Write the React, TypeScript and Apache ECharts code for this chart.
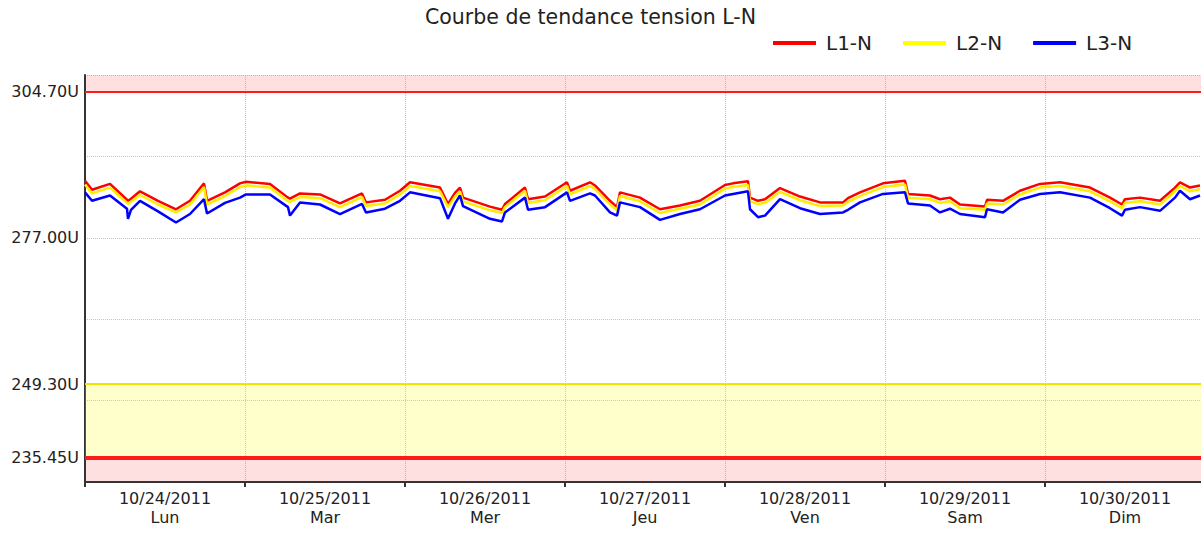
import React, { useEffect, useRef } from "react";
import * as echarts from "echarts";

// Hours since 10/24/2011 00:00
const hours = [0, 1.05, 3.75, 6.3, 6.45, 6.9, 8.25, 10.95, 13.65, 15.75, 17.85, 18.3, 21, 23.25, 24.15, 27.75, 30.45, 30.75, 32.25, 35.25, 38.25, 41.55, 42.15, 45, 47.25, 48.75, 53.25, 54.45, 55.5, 56.25, 56.7, 60.75, 62.55, 63, 66, 66.45, 69, 72.3, 72.75, 75.75, 76.5, 78.75, 79.8, 80.25, 83.25, 86.25, 89.25, 92.25, 96, 97.2, 99.45, 99.75, 100.95, 102, 104.25, 107.25, 110.25, 113.7, 114.45, 116.25, 119.7, 123, 123.45, 126.75, 128.25, 129.75, 131.25, 135, 135.3, 137.7, 140.25, 143.25, 146.25, 150.75, 153.75, 155.55, 156, 158.25, 161.25, 163.5, 164.25, 165.75, 167.25];

const l1 = [
  287.8, 286.1, 287.2, 284.2, 284.0, 284.4, 285.8, 284.0, 282.4, 284.0,
  287.3, 284.0, 285.6, 287.3, 287.6, 287.2, 284.6, 284.4, 285.4, 285.2,
  283.5, 285.4, 283.7, 284.2, 285.9, 287.5, 286.5, 283.4, 285.5, 286.5,
  284.6, 282.9, 282.3, 283.4, 286.5, 284.3, 284.8, 287.5, 285.9, 287.5,
  286.9, 284.0, 282.8, 285.6, 284.6, 282.4, 283.1, 284.0, 287.0, 287.3,
  287.7, 284.6, 284.0, 284.3, 286.4, 284.8, 283.7, 283.7, 284.5, 285.6,
  287.3, 287.8, 285.3, 285.0, 284.3, 284.6, 283.3, 282.9, 284.2, 284.0,
  285.9, 287.2, 287.5, 286.5, 284.6, 283.3, 284.3, 284.6, 284.0, 286.5,
  287.5, 286.5, 286.9,
];

const l2 = [
  287.1, 285.4, 286.5, 283.6, 283.4, 283.8, 285.1, 283.3, 281.8, 283.3,
  286.6, 283.3, 284.9, 286.6, 286.9, 286.5, 283.9, 283.8, 284.7, 284.5,
  282.8, 284.7, 283.0, 283.5, 285.2, 286.8, 285.8, 282.8, 284.8, 285.8,
  283.9, 282.2, 281.7, 282.8, 285.9, 283.6, 284.1, 286.8, 285.2, 286.8,
  286.2, 283.3, 282.2, 284.9, 283.9, 281.7, 282.5, 283.3, 286.3, 286.6,
  287.0, 283.9, 283.4, 283.6, 285.7, 284.1, 283.0, 283.1, 283.8, 284.9,
  286.6, 287.1, 284.6, 284.3, 283.6, 283.9, 282.6, 282.3, 283.5, 283.3,
  285.2, 286.5, 286.8, 285.8, 283.9, 282.6, 283.6, 283.9, 283.3, 285.8,
  286.8, 285.8, 286.2,
];

const l3 = [
  285.6, 284.0, 285.0, 282.5, 280.6, 282.3, 284.0, 282.0, 279.9, 281.5,
  284.3, 281.6, 283.6, 284.6, 285.2, 285.2, 282.8, 281.2, 283.7, 283.3,
  281.5, 283.4, 281.8, 282.5, 284.0, 285.6, 284.5, 280.6, 283.5, 285.0,
  283.0, 280.6, 280.1, 281.8, 284.6, 282.3, 282.8, 285.6, 284.0, 285.4,
  285.0, 281.8, 281.2, 283.7, 282.8, 280.4, 281.5, 282.4, 285.0, 285.3,
  285.8, 282.4, 280.9, 281.2, 284.3, 282.6, 281.5, 281.8, 282.3, 283.7,
  285.3, 285.6, 283.5, 283.1, 281.8, 282.5, 281.5, 280.9, 282.4, 281.8,
  284.2, 285.3, 285.6, 284.6, 282.6, 281.2, 282.3, 282.8, 282.1, 284.6,
  285.9, 284.3, 285.0,
];

const dayDates = ["10/24/2011", "10/25/2011", "10/26/2011", "10/27/2011", "10/28/2011", "10/29/2011", "10/30/2011"];
const dayNames = ["Lun", "Mar", "Mer", "Jeu", "Ven", "Sam", "Dim"];
const seriesNames = ["L1-N", "L2-N", "L3-N"];

const upperLimit = 304.7;
const nominal = 277.0;
const warnLimit = 249.3;
const lowerLimit = 235.45;
const yLabelValues = [lowerLimit, warnLimit, nominal, upperLimit];
const yMin = 230.8;
const yMax = 307.8;
const yStep = 15.4;
const xMax = 167.4;
const hoursPerDay = 24;

export default function App() {
  const ref = useRef<HTMLDivElement>(null);
  useEffect(() => {
    if (!ref.current) return;
    const chart = echarts.init(ref.current, null, { renderer: "svg" });
    const font = "DejaVu Sans";
    const textColor = "#222";
    const toPts = (arr: number[]) => hours.map((h, i) => [h, arr[i]]);
    chart.setOption({
      animation: false,
      backgroundColor: "#ffffff",
      title: {
        text: "Courbe de tendance tension L-N",
        left: 425,
        top: 6,
        padding: 0,
        textStyle: { fontFamily: font, fontSize: 20.5, fontWeight: "normal", color: textColor },
      },
      legend: {
        data: seriesNames,
        left: 773,
        top: 33,
        padding: 0,
        icon: "rect",
        itemWidth: 43,
        itemHeight: 4,
        itemGap: 31,
        textStyle: { fontFamily: font, fontSize: 20, color: textColor, padding: [0, 0, 0, 5] },
      },
      grid: { left: 85, right: 0, top: 75, bottom: 51 },
      xAxis: {
        type: "value",
        min: 0,
        max: xMax,
        interval: hoursPerDay,
        axisLine: { show: true, lineStyle: { color: "#333", width: 2 } },
        axisTick: {
          show: true,
          customValues: dayDates.map((_, i) => i * hoursPerDay),
          length: 5,
          lineStyle: { color: "#333", width: 2 },
        },
        splitLine: { show: true, lineStyle: { type: "dotted", color: "#c4c4c4", width: 1 } },
        axisLabel: {
          customValues: dayDates.map((_, i) => i * hoursPerDay + hoursPerDay / 2),
          formatter: (v: number) => {
            const idx = Math.floor(v / hoursPerDay);
            return dayDates[idx] + "\n" + dayNames[idx];
          },
          fontFamily: font,
          fontSize: 16,
          lineHeight: 19,
          color: textColor,
          margin: 7,
        },
      },
      yAxis: {
        type: "value",
        min: yMin,
        max: yMax,
        interval: yStep,
        axisLine: { show: true, lineStyle: { color: "#333", width: 2 } },
        axisTick: { show: false },
        splitLine: { show: true, lineStyle: { type: "dotted", color: "#c4c4c4", width: 1 } },
        axisLabel: {
          customValues: yLabelValues,
          formatter: (v: number) => v.toFixed(2) + "U",
          fontFamily: font,
          fontSize: 16,
          color: textColor,
          margin: 6,
        },
      },
      series: [
        {
          name: "limits",
          type: "line",
          data: [],
          z: 1,
          silent: true,
          markArea: {
            silent: true,
            data: [
              [{ yAxis: yMax, itemStyle: { color: "rgba(255,0,0,0.12)" } }, { yAxis: upperLimit }],
              [{ yAxis: warnLimit, itemStyle: { color: "rgba(255,255,0,0.2)" } }, { yAxis: lowerLimit }],
              [{ yAxis: lowerLimit, itemStyle: { color: "rgba(255,0,0,0.12)" } }, { yAxis: yMin }],
            ],
          },
          markLine: {
            silent: true,
            symbol: ["none", "none"],
            label: { show: false },
            data: [
              { yAxis: upperLimit, lineStyle: { color: "#ff1a1a", width: 2, type: "solid" } },
              { yAxis: warnLimit, lineStyle: { color: "#f2e200", width: 2, type: "solid" } },
              { yAxis: lowerLimit, lineStyle: { color: "#ff1a1a", width: 4, type: "solid" } },
            ],
          },
        },
        {
          name: seriesNames[0],
          type: "line",
          data: toPts(l1),
          showSymbol: false,
          z: 3,
          color: "#ff0000",
          lineStyle: { color: "#ff0000", width: 2.5 },
        },
        {
          name: seriesNames[1],
          type: "line",
          data: toPts(l2),
          showSymbol: false,
          z: 4,
          color: "#ffff00",
          lineStyle: { color: "#ffee00", width: 2.5 },
        },
        {
          name: seriesNames[2],
          type: "line",
          data: toPts(l3),
          showSymbol: false,
          z: 5,
          color: "#0000ff",
          lineStyle: { color: "#0000ff", width: 2.5 },
        },
      ],
    });
    return () => chart.dispose();
  }, []);
  return (
    <div
      ref={ref}
      style={{ position: "fixed", left: 0, top: 0, width: 1201, height: 533, background: "#fff" }}
    />
  );
}
